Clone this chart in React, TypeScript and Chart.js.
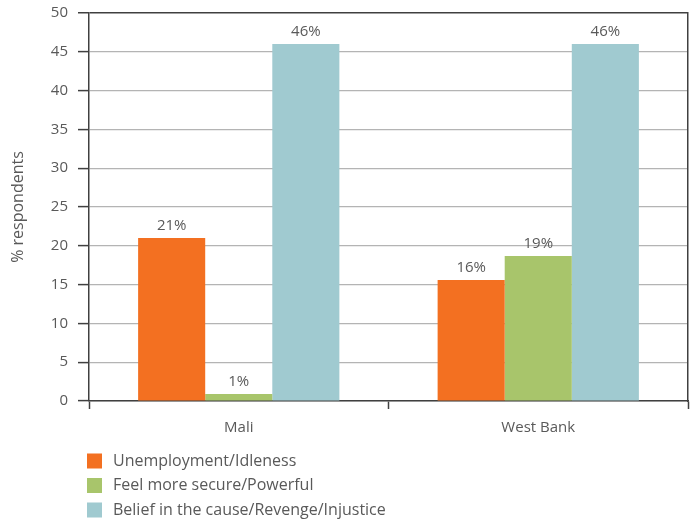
import React, { useEffect, useRef } from "react";
import { Chart, registerables } from "chart.js";

Chart.register(...registerables);

const categories = ["Mali", "West Bank"];
const seriesNames = [
  "Unemployment/Idleness",
  "Feel more secure/Powerful",
  "Belief in the cause/Revenge/Injustice",
];
const unemployment = [21, 15.6];
const secure = [0.9, 18.7];
const belief = [46, 46];
const seriesColors = ["#F37021", "#A8C56B", "#A0CAD0"];
const yTicks = [0, 5, 10, 15, 20, 25, 30, 35, 40, 45, 50];

const FONT = "'Open Sans', 'Noto Sans', sans-serif";
const TEXT = "#595959";
const DARK = "#404040";

const valueLabels = {
  id: "valueLabels",
  afterDatasetsDraw(chart: any) {
    const ctx = chart.ctx;
    ctx.save();
    ctx.font = `15px ${FONT}`;
    ctx.fillStyle = TEXT;
    ctx.textAlign = "center";
    ctx.textBaseline = "bottom";
    chart.data.datasets.forEach((ds: any, i: number) => {
      const meta = chart.getDatasetMeta(i);
      meta.data.forEach((bar: any, j: number) => {
        const v = ds.data[j] as number;
        ctx.fillText(`${Math.round(v)}%`, bar.x, bar.y - 5);
      });
    });
    ctx.restore();
  },
};

const boxLegend = {
  id: "boxLegend",
  afterDraw(chart: any) {
    const ctx = chart.ctx;
    ctx.save();
    ctx.font = `16px ${FONT}`;
    ctx.textBaseline = "middle";
    ctx.textAlign = "left";
    chart.data.datasets.forEach((ds: any, i: number) => {
      const cy = 461 + i * 24.5;
      ctx.fillStyle = ds.backgroundColor;
      ctx.fillRect(87, cy - 7.5, 15, 15);
      ctx.fillStyle = TEXT;
      ctx.fillText(ds.label, 113, cy);
    });
    ctx.restore();
  },
};

export default function App() {
  const ref = useRef<HTMLCanvasElement | null>(null);
  useEffect(() => {
    if (!ref.current) return;
    const chart = new Chart(ref.current, {
      type: "bar",
      data: {
        labels: categories,
        datasets: [unemployment, secure, belief].map((d, i) => ({
          label: seriesNames[i],
          data: d,
          backgroundColor: seriesColors[i],
          borderWidth: 0,
          barPercentage: 1,
          categoryPercentage: 0.672,
        })),
      },
      options: {
        responsive: false,
        animation: false,
        layout: { padding: { left: 9, top: 13, right: 6, bottom: 81 } },
        plugins: {
          legend: { display: false },
          tooltip: { enabled: false },
        },
        scales: {
          x: {
            grid: {
              offset: true,
              drawOnChartArea: false,
              drawTicks: true,
              tickLength: 8,
              tickColor: DARK,
              tickWidth: 1.5,
            },
            border: { color: DARK, width: 1.5 },
            ticks: { color: TEXT, font: { family: FONT, size: 15 }, padding: 10 },
            afterFit: (s: any) => {
              s.height = 40;
              s.paddingLeft = 0;
              s.paddingRight = 0;
            },
          },
          y: {
            min: 0,
            max: 50,
            afterBuildTicks: (s: any) => {
              s.ticks = yTicks.map((v) => ({ value: v }));
            },
            grid: {
              color: (c: any) => (c.tick && c.tick.value === 50 ? DARK : "#B4B4B4"),
              lineWidth: (c: any) => (c.tick && c.tick.value === 50 ? 1.5 : 1.2),
              tickLength: 11,
              tickColor: DARK,
              tickWidth: 1.5,
            },
            border: { color: DARK, width: 1.5 },
            ticks: { color: TEXT, font: { family: FONT, size: 15 }, padding: 10 },
            title: {
              display: true,
              text: "% respondents",
              color: TEXT,
              font: { family: FONT, size: 16 },
              padding: { top: 0, bottom: 0 },
            },
            afterFit: (s: any) => {
              s.width = 80;
              s.paddingTop = 0;
              s.paddingBottom = 0;
            },
          },
          y2: {
            position: "right",
            min: 0,
            max: 50,
            grid: { drawOnChartArea: false, drawTicks: false },
            border: { color: DARK, width: 1.5 },
            ticks: { display: false },
            afterFit: (s: any) => {
              s.width = 0;
              s.paddingTop = 0;
              s.paddingBottom = 0;
            },
          },
        },
      },
      plugins: [valueLabels, boxLegend],
    });
    return () => chart.destroy();
  }, []);
  return (
    <div style={{ position: "fixed", left: 0, top: 0, width: 694, height: 522, background: "#fff" }}>
      <canvas ref={ref} width={694} height={522} style={{ display: "block" }} />
    </div>
  );
}
